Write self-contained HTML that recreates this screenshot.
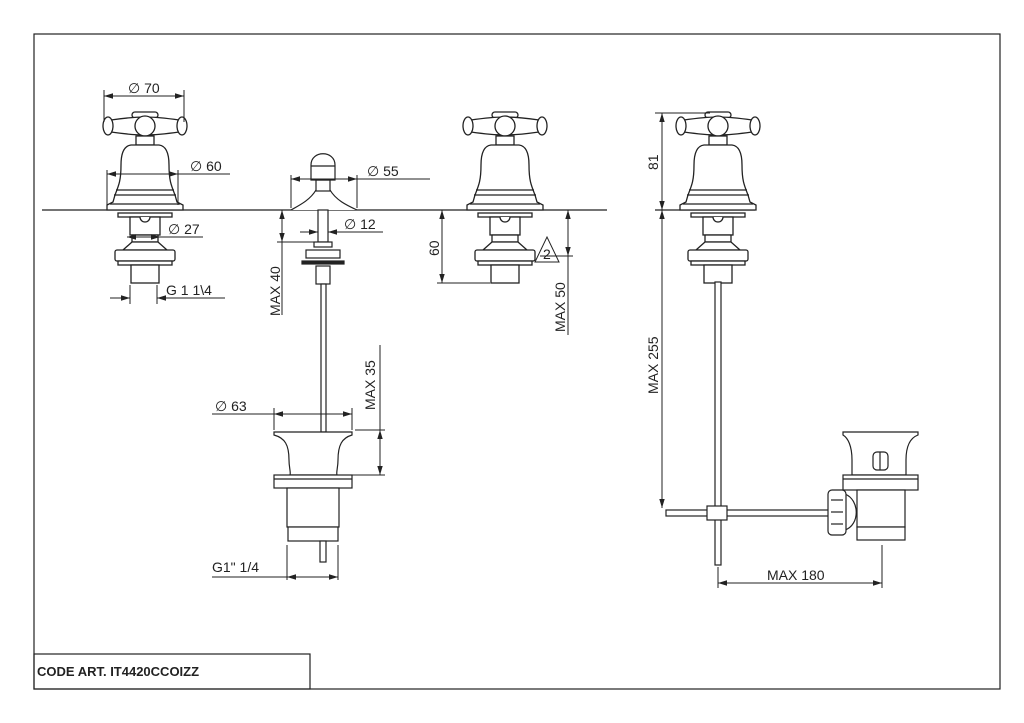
<!DOCTYPE html>
<html><head><meta charset="utf-8"><style>
html,body{margin:0;padding:0;background:#fff}
svg{display:block}
text{font-family:"Liberation Sans",sans-serif;font-size:14px;fill:#222}
</style></head><body>
<svg width="1024" height="723" viewBox="0 0 1024 723" xmlns="http://www.w3.org/2000/svg">
<defs>
<marker id="a" viewBox="0 0 10 10" refX="10" refY="5" markerWidth="9" markerHeight="9" orient="auto-start-reverse" markerUnits="userSpaceOnUse"><path d="M0,2 L10,5 L0,8 Z" fill="#222"/></marker>
<g id="f" fill="#fff" stroke="#222" stroke-width="1.3">
  <rect x="-13" y="-98" width="26" height="6" rx="3"/>
  <path d="M-34,-90 C-20,-92 -12,-93 0,-93 C12,-93 20,-92 34,-90 L34,-78 C20,-76 12,-75 0,-75 C-12,-75 -20,-76 -34,-78 Z"/>
  <ellipse cx="-37" cy="-84" rx="5" ry="9"/>
  <ellipse cx="37" cy="-84" rx="5" ry="9"/>
  <circle cx="0" cy="-84" r="10"/>
  <rect x="-9" y="-74" width="18" height="9"/>
  <path d="M-14,-65 C-22,-64 -24,-55 -24,-45 C-24,-30 -26,-25 -30,-15 L-32,-8 L-38,-5 L-38,0 L38,0 L38,-5 L32,-8 L30,-15 C26,-25 24,-30 24,-45 C24,-55 22,-64 14,-65 Z"/>
  <line x1="-29" y1="-20" x2="29" y2="-20"/>
  <line x1="-31" y1="-15" x2="31" y2="-15"/>
  <line x1="-35" y1="-6" x2="35" y2="-6"/>
  <rect x="-27" y="3" width="54" height="4"/>
  <rect x="-15" y="7" width="30" height="18"/>
  <path d="M-5,7 A5,5 0 0 0 5,7"/>
  <rect x="-13" y="25" width="26" height="7"/>
  <path d="M-13,32 L-22,40 L22,40 L13,32 Z"/>
  <rect x="-30" y="40" width="60" height="11" rx="2"/>
  <rect x="-27" y="51" width="54" height="4"/>
  <rect x="-14" y="55" width="28" height="18"/>
</g>
</defs>
<g stroke="#222" stroke-width="1.2" fill="none">
<rect x="34" y="34" width="966" height="655"/>
<rect x="34" y="654" width="276" height="35"/>
<line x1="42" y1="210" x2="607" y2="210"/>
<line x1="655" y1="210" x2="755" y2="210"/>
</g>
<use href="#f" x="145" y="210"/>
<use href="#f" x="505" y="210"/>
<use href="#f" x="718" y="210"/>
<g stroke="#222" stroke-width="1.2" fill="#fff">
<!-- middle knob -->
<path d="M291,210 C300,205 310,200 316,190 L330,190 C336,200 346,205 357,210"/>
<rect x="316" y="180" width="14" height="11"/>
<path d="M311,180 L311,165 C311,150 335,150 335,165 L335,180 Z"/>
<line x1="311" y1="166" x2="335" y2="166"/>
<rect x="318" y="210" width="10" height="32"/>
<rect x="314" y="242" width="18" height="5"/>
<rect x="306" y="250" width="34" height="8"/>
<rect x="302" y="261" width="42" height="3" fill="#222"/>
<rect x="316" y="266" width="14" height="18"/>
<rect x="321" y="284" width="5" height="148"/>
<!-- middle drain -->
<path d="M274,432 L352,432 L352,435 C342,438 338,445 338,460 C338,468 336,472 337,475 L290,475 C291,472 289,468 289,460 C289,445 285,438 274,435 Z"/>
<rect x="274" y="475" width="78" height="13"/>
<line x1="274" y1="479" x2="352" y2="479"/>
<rect x="287" y="488" width="52" height="39"/>
<rect x="288" y="527" width="50" height="14"/>
<rect x="320" y="541" width="6" height="21"/>
<!-- right drain assembly -->
<rect x="715" y="282" width="6" height="283"/>
<rect x="666" y="510" width="164" height="6"/>
<rect x="707" y="506" width="20" height="14"/>
<path d="M843,432 L918,432 L918,435 C910,438 906,446 906,460 L906,475 L852,475 L852,460 C852,446 848,438 843,435 Z"/>
<rect x="873" y="452" width="15" height="18" rx="4"/>
<line x1="880" y1="452" x2="880" y2="470"/>
<rect x="843" y="475" width="75" height="15"/>
<line x1="843" y1="479" x2="918" y2="479"/>
<rect x="857" y="490" width="48" height="37"/>
<rect x="857" y="527" width="48" height="13"/>
<path d="M845,494 C860,500 860,525 845,530 Z"/>
<rect x="828" y="490" width="18" height="45" rx="4"/>
<line x1="831" y1="500" x2="843" y2="500"/><line x1="831" y1="512" x2="843" y2="512"/><line x1="831" y1="524" x2="843" y2="524"/>
</g>
<g stroke="#222" stroke-width="1" fill="none">
<!-- Ø70 -->
<line x1="104" y1="90" x2="104" y2="122"/><line x1="184" y1="90" x2="184" y2="122"/>
<line x1="104" y1="96" x2="184" y2="96" marker-start="url(#a)" marker-end="url(#a)"/>
<!-- Ø60 -->
<line x1="107" y1="170" x2="107" y2="205"/><line x1="178" y1="170" x2="178" y2="205"/>
<line x1="107" y1="174" x2="178" y2="174" marker-start="url(#a)" marker-end="url(#a)"/>
<line x1="178" y1="174" x2="230" y2="174"/>
<!-- Ø27 -->
<line x1="127" y1="237" x2="160" y2="237" marker-start="url(#a)" marker-end="url(#a)"/>
<line x1="160" y1="237" x2="203" y2="237"/>
<!-- G 1 1\4 -->
<line x1="130" y1="285" x2="130" y2="304"/><line x1="157" y1="285" x2="157" y2="304"/>
<line x1="110" y1="298" x2="130" y2="298" marker-end="url(#a)"/>
<line x1="225" y1="298" x2="157" y2="298" marker-end="url(#a)"/>
<!-- Ø55 -->
<line x1="291" y1="175" x2="291" y2="208"/><line x1="357" y1="175" x2="357" y2="208"/>
<line x1="291" y1="179" x2="357" y2="179" marker-start="url(#a)" marker-end="url(#a)"/>
<line x1="357" y1="179" x2="430" y2="179"/>
<!-- Ø12 -->
<line x1="300" y1="232" x2="318" y2="232" marker-end="url(#a)"/>
<line x1="383" y1="232" x2="328" y2="232" marker-end="url(#a)"/>
<!-- MAX 40 -->
<line x1="277" y1="242" x2="318" y2="242"/>
<line x1="282" y1="210" x2="282" y2="242" marker-start="url(#a)" marker-end="url(#a)"/>
<line x1="282" y1="242" x2="282" y2="315"/>
<!-- Ø63 -->
<line x1="274" y1="408" x2="274" y2="430"/><line x1="352" y1="408" x2="352" y2="430"/>
<line x1="212" y1="414" x2="352" y2="414"/>
<line x1="274" y1="414" x2="352" y2="414" marker-start="url(#a)" marker-end="url(#a)"/>
<!-- MAX 35 -->
<line x1="355" y1="430" x2="385" y2="430"/><line x1="340" y1="475" x2="385" y2="475"/>
<line x1="380" y1="430" x2="380" y2="475" marker-start="url(#a)" marker-end="url(#a)"/>
<line x1="380" y1="345" x2="380" y2="430"/>
<!-- G1" 1/4 -->
<line x1="287" y1="545" x2="287" y2="580"/><line x1="338" y1="545" x2="338" y2="580"/>
<line x1="212" y1="577" x2="287" y2="577"/>
<line x1="287" y1="577" x2="338" y2="577" marker-start="url(#a)" marker-end="url(#a)"/>
<!-- 60 -->
<line x1="437" y1="283" x2="490" y2="283"/>
<line x1="442" y1="210" x2="442" y2="283" marker-start="url(#a)" marker-end="url(#a)"/>
<!-- MAX 50 -->
<line x1="540" y1="256" x2="573" y2="256"/>
<line x1="568" y1="210" x2="568" y2="256" marker-start="url(#a)" marker-end="url(#a)"/>
<line x1="568" y1="256" x2="568" y2="335"/>
<path d="M535,262 L547,237 L559,262 Z"/>
<!-- 81 -->
<line x1="655" y1="113" x2="710" y2="113"/>
<line x1="662" y1="113" x2="662" y2="210" marker-start="url(#a)" marker-end="url(#a)"/>
<!-- MAX 255 -->
<line x1="662" y1="210" x2="662" y2="508" marker-start="url(#a)" marker-end="url(#a)"/>
<!-- MAX 180 -->
<line x1="718" y1="567" x2="718" y2="588"/><line x1="882" y1="545" x2="882" y2="588"/>
<line x1="718" y1="583" x2="882" y2="583" marker-start="url(#a)" marker-end="url(#a)"/>
</g>
<text x="128" y="93">∅ 70</text>
<text x="190" y="171">∅ 60</text>
<text x="168" y="234">∅ 27</text>
<text x="166" y="295">G 1 1\4</text>
<text x="367" y="176">∅ 55</text>
<text x="344" y="229">∅ 12</text>
<text x="215" y="411">∅ 63</text>
<text x="212" y="572">G1" 1/4</text>
<text x="543" y="259" font-size="13">2</text>
<text x="767" y="580">MAX 180</text>
<text transform="translate(280,316) rotate(-90)">MAX 40</text>
<text transform="translate(375,410) rotate(-90)">MAX 35</text>
<text transform="translate(439,256) rotate(-90)">60</text>
<text transform="translate(565,332) rotate(-90)">MAX 50</text>
<text transform="translate(658,170) rotate(-90)">81</text>
<text transform="translate(658,394) rotate(-90)">MAX 255</text>
<text x="37" y="676" style="font-weight:bold;font-size:13px">CODE ART.  IT4420CCOIZZ</text>
</svg>
</body></html>
